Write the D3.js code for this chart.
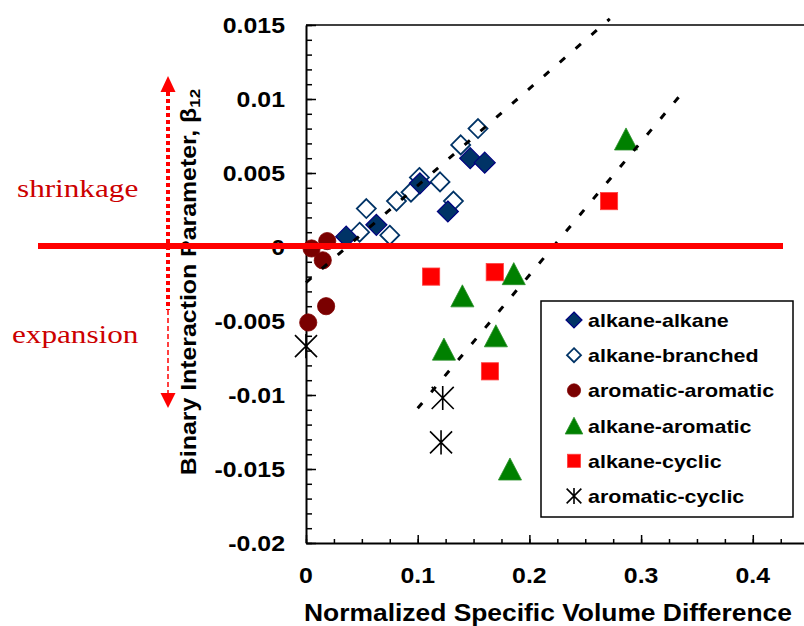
<!DOCTYPE html>
<html>
<head>
<meta charset="utf-8">
<script src="https://cdn.jsdelivr.net/npm/d3@7"></script>
<style>
  body { margin: 0; background: #ffffff; }
  svg { display: block; }
</style>
</head>
<body>
<svg id="chart" width="804" height="626"></svg>
<script>
// ---- tick labels ----
const xTickValues = [0, 0.1, 0.2, 0.3, 0.4];
const xTickLabels = ["0", "0.1", "0.2", "0.3", "0.4"];
const yTickValues = [0.015, 0.01, 0.005, 0, -0.005, -0.01, -0.015, -0.02];
const yTickLabels = ["0.015", "0.01", "0.005", "0", "-0.005", "-0.01", "-0.015", "-0.02"];

// ---- series (x = normalized specific volume difference, y = beta12) ----
const seriesNames = ["alkane-alkane", "alkane-branched", "aromatic-aromatic",
                     "alkane-aromatic", "alkane-cyclic", "aromatic-cyclic"];

const alkaneAlkaneX = [0.036, 0.063, 0.102, 0.127, 0.147, 0.160];
const alkaneAlkaneY = [0.0007, 0.0015, 0.0043, 0.0024, 0.0060, 0.0057];

const alkaneBranchedX = [0.048, 0.054, 0.075, 0.081, 0.094, 0.1015, 0.120, 0.132, 0.1385, 0.154];
const alkaneBranchedY = [0.0010, 0.0026, 0.0008, 0.0031, 0.0037, 0.0047, 0.0044, 0.0031, 0.0069, 0.0080];

const aromaticAromaticX = [0.002, 0.005, 0.015, 0.019, 0.018];
const aromaticAromaticY = [-0.0051, -0.0001, -0.0009, 0.0004, -0.0040];

const alkaneAromaticX = [0.1235, 0.140, 0.170, 0.1826, 0.186, 0.2865];
const alkaneAromaticY = [-0.0069, -0.0033, -0.0060, -0.0150, -0.0018, 0.0073];

const alkaneCyclicX = [0.112, 0.169, 0.1647, 0.2713];
const alkaneCyclicY = [-0.0020, -0.0017, -0.0084, 0.0031];

const aromaticCyclicX = [0.0, 0.1224, 0.1209];
const aromaticCyclicY = [-0.0067, -0.0102, -0.0132];

// linear trend lines: [slope, intercept, xStart, xEnd]
const trendUpper = [0.0655, -0.0024, 0.0, 0.272];
const trendLower = [0.090, -0.0199, 0.1, 0.341];

// ---- layout ----
const svg = d3.select("#chart");
const STRETCH = 1.13;
const FONT = "'Liberation Sans', Arial, Helvetica, sans-serif";
const SERIF = "'Liberation Serif', 'Times New Roman', Times, serif";

const x = d3.scaleLinear().domain([0, 0.45]).range([306, 306 + 0.45 * 1117]);
const y = d3.scaleLinear().domain([-0.02, 0.015]).range([543, 25]);

// plot-area top edge
svg.append("line")
  .attr("x1", x(0)).attr("x2", x(0.45))
  .attr("y1", y(0.015)).attr("y2", y(0.015))
  .attr("stroke", "#000").attr("stroke-width", 1.5);

// ---- x axis ----
const xMinor = d3.range(0, 0.4501, 0.025);
const gx = svg.append("g").attr("transform", `translate(0,${y(-0.02)})`);
gx.call(d3.axisBottom(x).tickValues(xMinor).tickSizeInner(-4).tickSizeOuter(0).tickFormat(""));
gx.append("g").call(d3.axisBottom(x).tickValues(xTickValues).tickSizeInner(-8).tickSizeOuter(0).tickFormat(""))
  .select(".domain").remove();
gx.selectAll(".domain").attr("stroke", "#000").attr("stroke-width", 2);
gx.selectAll(".tick line").attr("stroke", "#000").attr("stroke-width", 1.5);

svg.append("g").selectAll("text").data(xTickValues).join("text")
  .attr("transform", (d) => `translate(${x(d)},583) scale(${STRETCH},1)`)
  .attr("text-anchor", "middle")
  .attr("font-family", FONT).attr("font-weight", "bold").attr("font-size", 22)
  .attr("fill", "#000")
  .text((d, i) => xTickLabels[i]);

// ---- y axis ----
const yMinor = d3.range(-0.02, 0.01501, 0.001);
const gy = svg.append("g").attr("transform", `translate(${x(0)},0)`);
gy.call(d3.axisRight(y).tickValues(yMinor).tickSizeInner(6).tickSizeOuter(0).tickFormat(""));
gy.append("g").call(d3.axisRight(y).tickValues(yTickValues).tickSizeInner(10).tickSizeOuter(0).tickFormat(""))
  .select(".domain").remove();
gy.selectAll(".domain").attr("stroke", "#000").attr("stroke-width", 2);
gy.selectAll(".tick line").attr("stroke", "#000").attr("stroke-width", 1.5);

svg.append("g").selectAll("text").data(yTickValues).join("text")
  .attr("transform", (d) => `translate(285,${y(d) + 8}) scale(${STRETCH},1)`)
  .attr("text-anchor", "end")
  .attr("font-family", FONT).attr("font-weight", "bold").attr("font-size", 22)
  .attr("fill", "#000")
  .text((d, i) => yTickLabels[i]);

// ---- axis titles ----
svg.append("text")
  .attr("transform", `translate(548,621) scale(1.1,1)`)
  .attr("text-anchor", "middle")
  .attr("font-family", FONT).attr("font-weight", "bold").attr("font-size", 24)
  .attr("fill", "#000")
  .text("Normalized Specific Volume Difference");

const yTitle = svg.append("text")
  .attr("transform", `translate(196,282) rotate(-90) scale(${STRETCH},1)`)
  .attr("text-anchor", "middle")
  .attr("font-family", FONT).attr("font-weight", "bold").attr("font-size", 22)
  .attr("fill", "#000");
yTitle.append("tspan").text("Binary Interaction Parameter, \u03B2");
yTitle.append("tspan").attr("font-size", 15).attr("dy", 4).text("12");

// ---- marker shapes ----
function drawMarker(g, kind, cx, cy, s) {
  if (kind === 0) { // filled diamond
    g.append("path")
      .attr("d", `M${cx},${cy - s}L${cx + s},${cy}L${cx},${cy + s}L${cx - s},${cy}Z`)
      .attr("fill", "#003366").attr("stroke", "#000080").attr("stroke-width", 1.2);
  } else if (kind === 1) { // open diamond
    const r = s - 1;
    g.append("path")
      .attr("d", `M${cx},${cy - r}L${cx + r},${cy}L${cx},${cy + r}L${cx - r},${cy}Z`)
      .attr("fill", "#ffffff").attr("stroke", "#003366").attr("stroke-width", 1.8);
  } else if (kind === 2) { // circle
    g.append("circle").attr("cx", cx).attr("cy", cy).attr("r", s * 0.82)
      .attr("fill", "#7a0000").attr("stroke", "#800000").attr("stroke-width", 0.8);
  } else if (kind === 3) { // triangle
    const w = s * 1.1, h = s * 1.05;
    g.append("path")
      .attr("d", `M${cx},${cy - h}L${cx + w},${cy + h}L${cx - w},${cy + h}Z`)
      .attr("fill", "#008000").attr("stroke", "#2a8f2a").attr("stroke-width", 0.8);
  } else if (kind === 4) { // square
    const h = s * 0.82;
    g.append("rect").attr("x", cx - h).attr("y", cy - h).attr("width", 2 * h).attr("height", 2 * h)
      .attr("fill", "#ff0000").attr("stroke", "#ff4040").attr("stroke-width", 0.8);
  } else { // asterisk
    const a = s * 1.05, v = s * 1.15;
    g.append("path")
      .attr("d", `M${cx - a},${cy - a}L${cx + a},${cy + a}M${cx - a},${cy + a}L${cx + a},${cy - a}M${cx},${cy - v}L${cx},${cy + v}`)
      .attr("fill", "none").attr("stroke", "#000").attr("stroke-width", 1.6);
  }
}

const seriesData = [
  [alkaneAlkaneX, alkaneAlkaneY],
  [alkaneBranchedX, alkaneBranchedY],
  [aromaticAromaticX, aromaticAromaticY],
  [alkaneAromaticX, alkaneAromaticY],
  [alkaneCyclicX, alkaneCyclicY],
  [aromaticCyclicX, aromaticCyclicY]
];

// draw order: branched first so filled diamonds sit on top of it
const drawOrder = [1, 0, 2, 3, 4, 5];
const gPts = svg.append("g");
drawOrder.forEach((k) => {
  const [xs, ys] = seriesData[k];
  xs.forEach((xv, i) => drawMarker(gPts, k, x(xv), y(ys[i]), 10.5));
});

// ---- trend lines ----
[trendUpper, trendLower].forEach(([m, b, x0, x1]) => {
  svg.append("line")
    .attr("x1", x(x0)).attr("y1", y(m * x0 + b))
    .attr("x2", x(x1)).attr("y2", y(m * x1 + b))
    .attr("stroke", "#000").attr("stroke-width", 3)
    .attr("stroke-dasharray", "7,14");
});

// ---- zero reference line and shrink/expand annotation ----
svg.append("line")
  .attr("x1", 38).attr("x2", 783)
  .attr("y1", y(0) - 1).attr("y2", y(0) - 1)
  .attr("stroke", "#ff0000").attr("stroke-width", 6);

const ax = 168;
svg.append("line").attr("x1", ax).attr("x2", ax).attr("y1", 92).attr("y2", 310)
  .attr("stroke", "#ff0000").attr("stroke-width", 4).attr("stroke-dasharray", "4,3");
svg.append("line").attr("x1", ax).attr("x2", ax).attr("y1", 310).attr("y2", 394)
  .attr("stroke", "#ff0000").attr("stroke-width", 1.5).attr("stroke-dasharray", "5,3");
svg.append("path").attr("d", `M${ax},76L${ax + 7.5},92L${ax - 7.5},92Z`).attr("fill", "#ff0000");
svg.append("path").attr("d", `M${ax},408L${ax + 7.5},393L${ax - 7.5},393Z`).attr("fill", "#ff0000");

svg.append("text")
  .attr("transform", `translate(17,197) scale(1.2,1)`)
  .attr("font-family", SERIF).attr("font-size", 26).attr("fill", "#cc0000")
  .text("shrinkage");
svg.append("text")
  .attr("transform", `translate(12,343) scale(1.2,1)`)
  .attr("font-family", SERIF).attr("font-size", 26).attr("fill", "#cc0000")
  .text("expansion");

// ---- legend ----
const lg = svg.append("g");
lg.append("rect").attr("x", 541).attr("y", 301).attr("width", 252).attr("height", 216)
  .attr("fill", "#fff").attr("stroke", "#000").attr("stroke-width", 1.5);
seriesNames.forEach((name, i) => {
  const cy = 320 + i * 35.2;
  drawMarker(lg, i, 574, cy, i === 5 ? 7 : 8);
  lg.append("text")
    .attr("transform", `translate(588,${cy + 7}) scale(${STRETCH},1)`)
    .attr("font-family", FONT).attr("font-weight", "bold").attr("font-size", 19)
    .attr("fill", "#000")
    .text(name);
});
</script>
</body>
</html>
